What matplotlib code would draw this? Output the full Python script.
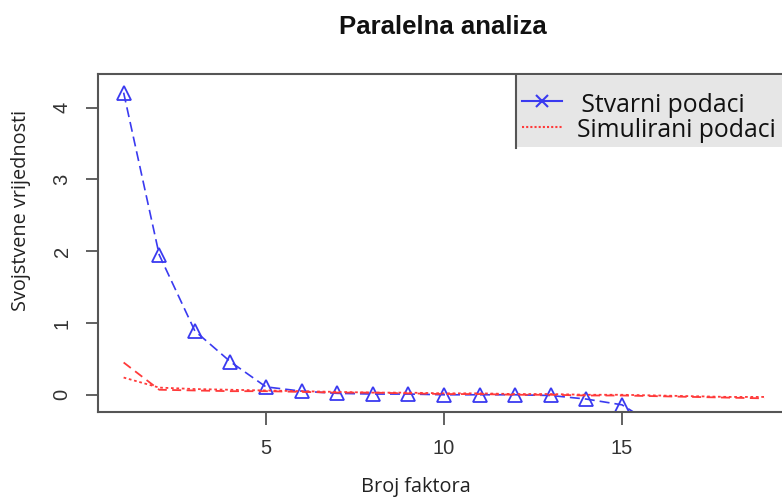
import matplotlib
matplotlib.use("Agg")
import matplotlib.pyplot as plt
from matplotlib.lines import Line2D
from matplotlib.patches import Rectangle

factors = list(range(1, 20))
stvarni = [4.21, 1.95, 0.89, 0.46, 0.11, 0.05, 0.02, 0.01, 0.01, 0.0, 0.0, 0.0, -0.01, -0.06, -0.14,
           -0.45, -0.55, -0.65, -0.75]
sim_a = [0.45, 0.07, 0.06, 0.05, 0.05, 0.04, 0.03, 0.03, 0.02, 0.01, 0.01, 0.0, 0.0, -0.01, -0.01,
         -0.02, -0.03, -0.04, -0.05]
sim_b = [0.24, 0.10, 0.08, 0.07, 0.06, 0.05, 0.04, 0.03, 0.03, 0.02, 0.02, 0.01, 0.01, 0.0, 0.0,
         -0.01, -0.02, -0.03, -0.03]
xticks = [5, 10, 15]
yticks = [0, 1, 2, 3, 4]
legend_labels = [" Stvarni podaci", "Simulirani podaci"]

W, H = 782, 498
fig = plt.figure(figsize=(W / 100, H / 100), dpi=100)
ax = fig.add_axes([98 / W, 1 - 412 / H, (790 - 98) / W, (412 - 74) / H])

blue = "#3a3af0"
red = "#ff3a3a"
ax.plot(factors, stvarni, color=blue, linestyle=(0, (6, 3)), linewidth=1.2,
        marker="^", markersize=10, markerfacecolor="none", markeredgecolor=blue, markeredgewidth=1.3)
ax.plot(factors, sim_a, color=red, linestyle=(0, (5, 3)), linewidth=1.3)
ax.plot(factors, sim_b, color=red, linestyle=(0, (1.5, 1.5)), linewidth=1.3)

ax.set_xlim(0.28, 19.72)
ax.set_ylim(-0.24, 4.47)
ax.set_xticks(xticks)
ax.set_yticks(yticks)
ax.set_yticklabels([str(v) for v in yticks], rotation=90, va="center")
for s in ax.spines.values():
    s.set_color("#555555")
    s.set_linewidth(1.5)
ax.tick_params(axis="x", length=9.5, width=1.3, color="#555555", labelcolor="#333333", pad=10,
               labelsize=14.5, labelfontfamily="Liberation Sans")
ax.tick_params(axis="y", length=9, width=1.3, color="#555555", labelcolor="#333333", pad=10,
               labelsize=14.5, labelfontfamily="Liberation Sans")

fig.text(443 / W, 1 - 27 / H, "Paralelna analiza", ha="center", va="center",
         fontsize=18.5, fontweight="bold", color="#111111", family="Liberation Sans")
fig.text(416 / W, 1 - 487 / H, "Broj faktora", ha="center", va="center", fontsize=14.3,
         color="#222222", family="Open Sans")
fig.text(21 / W, 1 - 210 / H, "Svojstvene vrijednosti", ha="center", va="center",
         rotation=90, fontsize=14.3, color="#222222", family="Open Sans")

# legend (pasted-style box)
fig.patches.append(Rectangle((516 / W, 1 - 147 / H), (800 - 516) / W, 72 / H,
                             transform=fig.transFigure, facecolor="#e6e6e6", edgecolor="none", zorder=5))
fig.lines.append(Line2D([516 / W, 516 / W], [1 - 148 / H, 1 - 75 / H], transform=fig.transFigure,
                        color="#555555", linewidth=1.5, zorder=6))
fig.lines.append(Line2D([522 / W, 562 / W], [1 - 101 / H] * 2, transform=fig.transFigure,
                        color=blue, linewidth=1.5, zorder=6))
fig.lines.append(Line2D([542 / W], [1 - 101 / H], transform=fig.transFigure, color=blue,
                        marker="x", markersize=8, markeredgewidth=1.5, linestyle="none", zorder=6))
fig.lines.append(Line2D([522 / W, 562 / W], [1 - 127 / H] * 2, transform=fig.transFigure,
                        color=red, linestyle=(0, (1, 1)), linewidth=1.5, zorder=6))
fig.text(575 / W, 1 - 112 / H, legend_labels[0], ha="left", va="baseline", fontsize=17.8,
         color="#111111", family="Open Sans", zorder=7)
fig.text(577 / W, 1 - 137 / H, legend_labels[1], ha="left", va="baseline", fontsize=17.8,
         color="#111111", family="Open Sans", zorder=7)

fig.savefig("out.png", dpi=100)
